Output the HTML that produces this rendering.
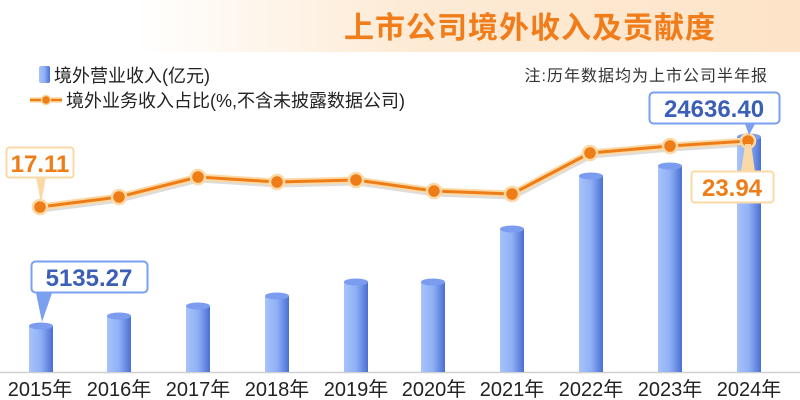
<!DOCTYPE html>
<html><head><meta charset="utf-8"><style>
body{margin:0;width:800px;height:400px;overflow:hidden;background:#fff}
svg{display:block}
text{font-family:"Liberation Sans","Noto Sans CJK SC",sans-serif}
</style></head><body>
<svg width="800" height="400" viewBox="0 0 800 400">
<defs>
<linearGradient id="band" x1="0" x2="1" y1="0" y2="0">
<stop offset="0.17" stop-color="#fff"/><stop offset="0.5" stop-color="#fdebd6"/><stop offset="1" stop-color="#fde4c8"/></linearGradient>
<linearGradient id="bar" x1="0" x2="1" y1="0" y2="0">
<stop offset="0" stop-color="#a8c3fb"/><stop offset="0.5" stop-color="#8fb0f5"/><stop offset="1" stop-color="#4a6fd3"/></linearGradient>
</defs>
<rect x="0" y="0" width="800" height="52" fill="url(#band)"/>
<text x="530" y="38" font-size="30" font-weight="bold" fill="#f07c1a" text-anchor="middle" letter-spacing="1">上市公司境外收入及贡献度</text>
<!-- legend -->
<rect x="39" y="66" width="11" height="17" rx="2" fill="url(#bar)"/>
<text x="54" y="82" font-size="18" fill="#222">境外营业收入(亿元)</text>
<line x1="30" y1="100" x2="62" y2="100" stroke="#f5c98a" stroke-width="5"/>
<line x1="30" y1="100" x2="62" y2="100" stroke="#ef7d17" stroke-width="2"/>
<circle cx="46" cy="100" r="4.5" fill="#ef7d17" stroke="#f8d49a" stroke-width="1.5"/>
<text x="66" y="107" font-size="18" fill="#222">境外业务收入占比(%,不含未披露数据公司)</text>
<text x="768" y="81" font-size="16" fill="#333" text-anchor="end" font-family="Noto Serif CJK SC,serif" letter-spacing="1">注:历年数据均为上市公司半年报</text>
<!-- axis -->
<line x1="0" y1="372.5" x2="800" y2="372.5" stroke="#d0d0d0" stroke-width="1.5"/>
<!-- bars -->
<g fill="url(#bar)">
<rect x="29" y="326" width="24" height="46"/>
<rect x="107" y="316" width="24" height="56"/>
<rect x="186" y="306" width="24" height="66"/>
<rect x="265" y="296" width="24" height="76"/>
<rect x="344" y="282" width="24" height="90"/>
<rect x="421" y="282" width="24" height="90"/>
<rect x="500" y="229" width="24" height="143"/>
<rect x="579" y="176" width="24" height="196"/>
<rect x="658" y="166" width="24" height="206"/>
<rect x="737" y="137" width="24" height="235"/>
</g>
<g fill="#7b9cef">
<ellipse cx="41" cy="326" rx="12" ry="3.5"/>
<ellipse cx="119" cy="316" rx="12" ry="3.5"/>
<ellipse cx="198" cy="306" rx="12" ry="3.5"/>
<ellipse cx="277" cy="296" rx="12" ry="3.5"/>
<ellipse cx="356" cy="282" rx="12" ry="3.5"/>
<ellipse cx="433" cy="282" rx="12" ry="3.5"/>
<ellipse cx="512" cy="229" rx="12" ry="3.5"/>
<ellipse cx="591" cy="176" rx="12" ry="3.5"/>
<ellipse cx="670" cy="166" rx="12" ry="3.5"/>
<ellipse cx="749" cy="137" rx="12" ry="3.5"/>
</g>
<!-- line -->
<polyline points="40,207 119,197 198,177 277,182 356,180 434,191 512,194 590,153 670,146 748,141" fill="none" stroke="#bbb" stroke-width="5" opacity="0.5" transform="translate(1,3)"/>
<polyline points="40,207 119,197 198,177 277,182 356,180 434,191 512,194 590,153 670,146 748,141" fill="none" stroke="#fbd9a6" stroke-width="7" stroke-linejoin="round"/>
<polyline points="40,207 119,197 198,177 277,182 356,180 434,191 512,194 590,153 670,146 748,141" fill="none" stroke="#ef7d17" stroke-width="3" stroke-linejoin="round"/>
<g fill="#ef7d17" stroke="#fbd9a6" stroke-width="2.5">
<circle cx="40" cy="207" r="7"/><circle cx="119" cy="197" r="7"/><circle cx="198" cy="177" r="7"/><circle cx="277" cy="182" r="7"/><circle cx="356" cy="180" r="7"/><circle cx="434" cy="191" r="7"/><circle cx="512" cy="194" r="7"/><circle cx="590" cy="153" r="7"/><circle cx="670" cy="146" r="7"/><circle cx="748" cy="141" r="7"/>
</g>
<!-- callouts -->
<polygon points="36,177 46,177 41,203" fill="#fbd9a6"/>
<rect x="6.5" y="147.5" width="67" height="30" rx="3" fill="#fff" stroke="#fbd9a6" stroke-width="2"/>
<text x="40" y="172" font-size="24" font-weight="bold" fill="#ef7d17" text-anchor="middle">17.11</text>

<polygon points="745,144 751,144 755,172 741,172" fill="#fbd9a6"/>
<rect x="691.5" y="171.5" width="82" height="31" rx="3" fill="#fff" stroke="#fbd9a6" stroke-width="2"/>
<text x="732" y="196" font-size="24" font-weight="bold" fill="#ef7d17" text-anchor="middle">23.94</text>

<polygon points="745,124 755,124 749,135" fill="#7aa0ef"/>
<rect x="649.5" y="92.5" width="130" height="31" rx="4" fill="#fff" stroke="#7aa0ef" stroke-width="2"/>
<text x="714" y="117" font-size="24" font-weight="bold" fill="#3b5fb8" text-anchor="middle">24636.40</text>

<polygon points="36,293 52,293 42,322" fill="#7aa0ef"/>
<rect x="31.5" y="261.5" width="116" height="31" rx="4" fill="#fff" stroke="#7aa0ef" stroke-width="2"/>
<text x="89" y="286" font-size="24" font-weight="bold" fill="#3b5fb8" text-anchor="middle">5135.27</text>

<!-- x labels -->
<g font-size="20" fill="#222" text-anchor="middle">
<text x="40" y="396">2015年</text><text x="119" y="396">2016年</text><text x="198" y="396">2017年</text><text x="277" y="396">2018年</text><text x="356" y="396">2019年</text><text x="434" y="396">2020年</text><text x="512" y="396">2021年</text><text x="591" y="396">2022年</text><text x="670" y="396">2023年</text><text x="749" y="396">2024年</text>
</g>
</svg>
</body></html>
